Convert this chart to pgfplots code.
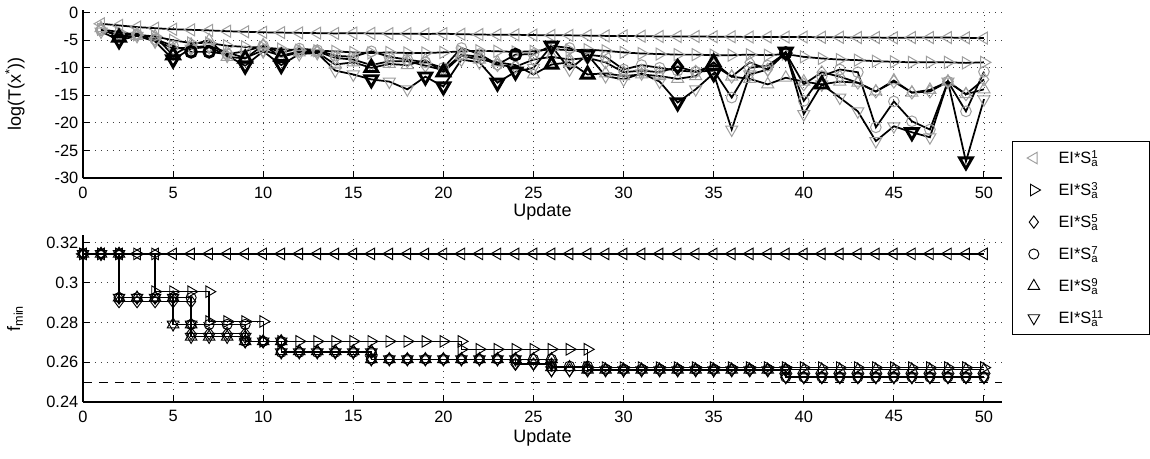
\documentclass[border=0pt]{standalone}
\usepackage{fontspec}
\setmainfont{Liberation Sans}
\usepackage{pgfplots}
\pgfplotsset{compat=1.18}

\definecolor{mk}{gray}{0.62}

\pgfplotsset{
  mat/.style={
    scale only axis, width=689.25pt, xmin=0, xmax=51,
    axis x line*=bottom, axis y line*=left,
    axis line style={-, line width=0.9pt},
    tick align=inside, major tick length=5pt,
    tick style={line width=0.75pt, black},
    xtick={0,5,...,50},
    grid=major,
    major grid style={black!75, line width=0.7pt, dash pattern=on 0.7pt off 3.8pt},
    tick label style={font=\fontsize{12.3}{14}\selectfont},
    xticklabel style={yshift=-3pt},
    label style={font=\fontsize{13.5}{16}\selectfont},
    /pgf/number format/assume math mode=true,
    xlabel={Update},
  },
  % top panel: black lines, grey markers
  tl/.style={black, line width=1.3pt, mark=triangle, mark size=5.2pt, mark options={draw=mk, line width=0.75pt, rotate=90}},
  tr/.style={black, line width=1.3pt, mark=triangle, mark size=5.2pt, mark options={draw=mk, line width=0.75pt, rotate=-90}},
  td/.style={black, line width=1.3pt, mark=diamond, mark size=4.8pt, mark options={draw=mk, line width=0.75pt}},
  tc/.style={black, line width=1.3pt, mark=o, mark size=4pt, mark options={draw=mk, line width=0.75pt}},
  tu/.style={black, line width=1.3pt, mark=triangle, mark size=5.2pt, mark options={draw=mk, line width=0.75pt}},
  tv/.style={black, line width=1.3pt, mark=triangle, mark size=5.2pt, mark options={draw=mk, line width=0.75pt, rotate=180}},
  % bottom panel: black lines and markers
  bl/.style={black, line width=1.0pt, mark=triangle, mark size=5pt, mark options={line width=0.7pt, rotate=90}},
  br/.style={black, line width=1.0pt, mark=triangle, mark size=5pt, mark options={line width=0.7pt, rotate=-90}},
  bd/.style={black, line width=1.0pt, mark=diamond, mark size=4.6pt, mark options={line width=0.7pt}},
  bc/.style={black, line width=1.0pt, mark=o, mark size=3.8pt, mark options={line width=0.7pt}},
  bu/.style={black, line width=1.0pt, mark=triangle, mark size=5pt, mark options={line width=0.7pt}},
  bv/.style={black, line width=1.0pt, mark=triangle, mark size=5pt, mark options={line width=0.7pt, rotate=180}},
}
\newcommand\lgnd[1]{\makebox[68.25pt][l]{EI*S\rlap{\textsuperscript{#1}}\textsubscript{a}}}

\begin{document}
\begin{tikzpicture}
\useasboundingbox (-62.25pt,7.5pt) rectangle (800.25pt,-336pt);

% ---------------- top: log(T(x*)) ----------------
\begin{axis}[mat,
    at={(0,0)}, anchor=north west,
    height=126pt, ymin=-30, ymax=0.5,
    ytick={-30,-25,-20,-15,-10,-5,0},
    ylabel={log(T(x\textsuperscript{*}))},
    xlabel style={at={(axis description cs:0.5,-0.202)}, anchor=center},
    ylabel style={at={(axis description cs:-0.074,0.5)}, anchor=center},
]
\addplot[tl] coordinates {
(1,-2.0)(2,-2.3)(3,-2.6)(4,-2.8)(5,-3.0)(6,-3.1)(7,-3.2)(8,-3.35)(9,-3.45)(10,-3.55)
(11,-3.6)(12,-3.65)(13,-3.7)(14,-3.75)(15,-3.7)(16,-3.75)(17,-3.8)(18,-3.8)(19,-3.85)(20,-3.8)
(21,-3.9)(22,-3.95)(23,-4.0)(24,-4.0)(25,-4.05)(26,-4.1)(27,-4.1)(28,-4.15)(29,-4.2)(30,-4.2)
(31,-4.25)(32,-4.3)(33,-4.3)(34,-4.3)(35,-4.35)(36,-4.35)(37,-4.4)(38,-4.4)(39,-4.4)(40,-4.4)
(41,-4.45)(42,-4.45)(43,-4.5)(44,-4.5)(45,-4.55)(46,-4.5)(47,-4.5)(48,-4.5)(49,-4.55)(50,-4.6)};
\addplot[tr] coordinates {
(1,-3.0)(2,-3.5)(3,-4.0)(4,-4.3)(5,-5.0)(6,-5.5)(7,-5.5)(8,-6.0)(9,-6.2)(10,-6.3)
(11,-6.6)(12,-6.8)(13,-6.9)(14,-7.0)(15,-7.2)(16,-7.3)(17,-7.2)(18,-7.3)(19,-7.3)(20,-7.2)
(21,-7.0)(22,-6.9)(23,-7.0)(24,-7.1)(25,-7.0)(26,-6.6)(27,-6.8)(28,-6.7)(29,-6.9)(30,-7.2)
(31,-7.4)(32,-7.5)(33,-7.6)(34,-7.6)(35,-7.7)(36,-7.7)(37,-7.6)(38,-7.7)(39,-7.5)(40,-8.0)
(41,-8.3)(42,-8.5)(43,-8.6)(44,-8.8)(45,-8.9)(46,-9.0)(47,-9.0)(48,-9.0)(49,-9.1)(50,-9.0)};
\addplot[td] coordinates {
(1,-3.0)(2,-4.2)(3,-3.8)(4,-5.0)(5,-6.5)(6,-6.3)(7,-6.0)(8,-7.2)(9,-8.2)(10,-6.8)
(11,-7.8)(12,-7.0)(13,-7.0)(14,-8.2)(15,-8.5)(16,-9.5)(17,-8.8)(18,-8.8)(19,-9.6)(20,-10.4)
(21,-7.6)(22,-8.0)(23,-9.5)(24,-9.8)(25,-8.5)(26,-8.0)(27,-8.5)(28,-8.2)(29,-9.0)(30,-10.8)
(31,-10.5)(32,-10.8)(33,-9.8)(34,-10.7)(35,-9.5)(36,-11.6)(37,-9.0)(38,-10.3)(39,-7.3)(40,-13.0)
(41,-10.8)(42,-11.6)(43,-12.7)(44,-14.3)(45,-12.5)(46,-14.5)(47,-14.3)(48,-12.5)(49,-14.8)(50,-12.1)};
\addplot[tc] coordinates {
(1,-3.2)(2,-4.0)(3,-4.0)(4,-4.8)(5,-6.0)(6,-7.1)(7,-7.1)(8,-7.5)(9,-7.0)(10,-6.0)
(11,-7.2)(12,-6.5)(13,-6.8)(14,-7.8)(15,-8.0)(16,-7.0)(17,-8.0)(18,-8.5)(19,-9.0)(20,-10.0)
(21,-6.4)(22,-7.5)(23,-9.4)(24,-7.6)(25,-7.5)(26,-6.0)(27,-6.4)(28,-7.6)(29,-8.0)(30,-10.3)
(31,-9.5)(32,-10.0)(33,-10.5)(34,-10.7)(35,-10.5)(36,-15.4)(37,-10.0)(38,-9.6)(39,-7.3)(40,-16.0)
(41,-11.5)(42,-10.3)(43,-10.8)(44,-20.8)(45,-16.1)(46,-19.7)(47,-21.2)(48,-12.5)(49,-17.9)(50,-10.7)};
\addplot[tu] coordinates {
(1,-2.8)(2,-4.5)(3,-4.2)(4,-4.3)(5,-7.7)(6,-5.8)(7,-5.0)(8,-8.0)(9,-8.3)(10,-5.9)
(11,-8.0)(12,-7.2)(13,-7.2)(14,-9.4)(15,-9.0)(16,-10.0)(17,-9.3)(18,-9.5)(19,-8.6)(20,-10.8)
(21,-7.8)(22,-8.5)(23,-9.0)(24,-9.5)(25,-11.2)(26,-9.4)(27,-9.0)(28,-11.2)(29,-11.0)(30,-11.5)
(31,-11.2)(32,-11.5)(33,-12.0)(34,-11.5)(35,-9.0)(36,-11.6)(37,-12.0)(38,-13.0)(39,-11.8)(40,-12.5)
(41,-13.0)(42,-12.5)(43,-12.7)(44,-14.3)(45,-12.3)(46,-14.5)(47,-14.0)(48,-12.5)(49,-14.8)(50,-13.9)};
\addplot[tv] coordinates {
(1,-3.4)(2,-5.0)(3,-4.2)(4,-5.2)(5,-8.5)(6,-6.5)(7,-6.2)(8,-7.8)(9,-9.6)(10,-7.0)
(11,-9.5)(12,-7.5)(13,-7.3)(14,-10.5)(15,-11.2)(16,-12.1)(17,-12.5)(18,-13.9)(19,-11.6)(20,-13.4)
(21,-8.5)(22,-9.0)(23,-12.7)(24,-10.7)(25,-10.0)(26,-6.0)(27,-10.3)(28,-7.6)(29,-11.5)(30,-12.1)
(31,-11.0)(32,-12.5)(33,-16.3)(34,-13.9)(35,-11.0)(36,-21.2)(37,-11.2)(38,-10.3)(39,-7.1)(40,-18.4)
(41,-13.0)(42,-15.4)(43,-17.9)(44,-23.3)(45,-20.6)(46,-21.7)(47,-22.6)(48,-12.5)(49,-27.0)(50,-15.7)};
% highlighted (black) markers
\addplot[only marks, mark=triangle, mark size=5.5pt, mark options={draw=black, line width=2.2pt, rotate=180}] coordinates {
(2,-5.0)(5,-8.5)(9,-9.6)(11,-9.5)(16,-12.1)(19,-11.6)(20,-13.4)(23,-12.7)(24,-10.7)(26,-6.0)(28,-7.6)(33,-16.3)(35,-11.0)(39,-7.1)(46,-21.7)(49,-27.0)};
\addplot[only marks, mark=triangle, mark size=5.5pt, mark options={draw=black, line width=2.2pt}] coordinates {
(2,-4.5)(5,-7.7)(9,-8.3)(11,-8.0)(16,-10.0)(20,-10.8)(26,-9.4)(28,-11.2)(35,-9.0)(41,-13.0)};
\addplot[only marks, mark=o, mark size=4pt, mark options={draw=black, line width=2.2pt}] coordinates {
(6,-7.1)(7,-7.1)(24,-7.6)(39,-7.3)};
\addplot[only marks, mark=diamond, mark size=4.8pt, mark options={draw=black, line width=2.2pt}] coordinates {
(33,-9.8)};
\end{axis}

% ---------------- bottom: f_min ----------------
\begin{axis}[mat,
    at={(0,-168.75pt)}, anchor=north west,
    height=125.25pt, ymin=0.24, ymax=0.324,
    ytick={0.24,0.26,0.28,0.3,0.32},
    ylabel={f\textsubscript{min}},
    xlabel style={at={(axis description cs:0.5,-0.216)}, anchor=center},
    ylabel style={at={(axis description cs:-0.074,0.5)}, anchor=center},
    legend image code/.code={\path[draw=none] (0pt,0pt) -- (30pt,0pt); \draw[#1] plot coordinates {(16pt,0pt)};},
    legend style={at={(1.0109,1.563)}, anchor=north west, draw=black, line width=0.75pt,
      inner xsep=0pt, inner ysep=6.5pt, row sep=12.2pt, column sep=4.5pt,
      font=\fontsize{12.3}{14}\selectfont, nodes={draw=none, inner sep=0pt}},
    legend cell align=left,
]
\addlegendimage{only marks, mark=triangle, mark size=5pt, mark options={draw=mk, line width=0.7pt, rotate=90}}
\addlegendentry{\lgnd{1}}
\addlegendimage{only marks, mark=triangle, mark size=5pt, mark options={draw=black, line width=0.7pt, rotate=-90}}
\addlegendentry{\lgnd{3}}
\addlegendimage{only marks, mark=diamond, mark size=4.6pt, mark options={draw=black, line width=0.7pt}}
\addlegendentry{\lgnd{5}}
\addlegendimage{only marks, mark=o, mark size=3.8pt, mark options={draw=black, line width=0.7pt}}
\addlegendentry{\lgnd{7}}
\addlegendimage{only marks, mark=triangle, mark size=5pt, mark options={draw=black, line width=0.7pt}}
\addlegendentry{\lgnd{9}}
\addlegendimage{only marks, mark=triangle, mark size=5pt, mark options={draw=black, line width=0.7pt, rotate=180}}
\addlegendentry{\lgnd{11}}

\addplot[forget plot, black, line width=0.8pt, dash pattern=on 7pt off 5pt] coordinates {(0,0.25)(51,0.25)};

\addplot[bl, forget plot] coordinates {
(0,.3145)(1,.3145)(2,.3145)(3,.3145)(4,.3145)(5,.3145)(6,.3145)(7,.3145)(8,.3145)(9,.3145)
(10,.3145)(11,.3145)(12,.3145)(13,.3145)(14,.3145)(15,.3145)(16,.3145)(17,.3145)(18,.3145)(19,.3145)
(20,.3145)(21,.3145)(22,.3145)(23,.3145)(24,.3145)(25,.3145)(26,.3145)(27,.3145)(28,.3145)(29,.3145)
(30,.3145)(31,.3145)(32,.3145)(33,.3145)(34,.3145)(35,.3145)(36,.3145)(37,.3145)(38,.3145)(39,.3145)
(40,.3145)(41,.3145)(42,.3145)(43,.3145)(44,.3145)(45,.3145)(46,.3145)(47,.3145)(48,.3145)(49,.3145)(50,.3145)};
\addplot[br, forget plot] coordinates {
(0,.3145)(1,.3145)(2,.3145)(3,.3145)(4,.3145)(4,.2955)(5,.2955)(6,.2955)(7,.2955)
(7,.2805)(8,.2805)(9,.2805)(10,.2805)
(10,.2705)(11,.2705)(12,.2705)(13,.2705)(14,.2705)(15,.2705)(16,.2705)(17,.2705)(18,.2705)(19,.2705)(20,.2705)(21,.2705)
(21,.2665)(22,.2665)(23,.2665)(24,.2665)(25,.2665)(26,.2665)(27,.2665)(28,.2665)
(28,.2573)(29,.2573)(30,.2573)(31,.2573)(32,.2573)(33,.2573)(34,.2573)(35,.2573)(36,.2573)(37,.2573)(38,.2573)(39,.2573)
(40,.2573)(41,.2573)(42,.2573)(43,.2573)(44,.2573)(45,.2573)(46,.2573)(47,.2573)(48,.2573)(49,.2573)(50,.2573)};
\addplot[bd, forget plot] coordinates {
(0,.3145)(1,.3145)(2,.3145)(2,.2905)(3,.2905)(4,.2905)(5,.2905)(6,.2905)
(6,.2745)(7,.2745)(8,.2745)(9,.2745)(9,.2705)(10,.2705)(11,.2705)
(11,.2655)(12,.2655)(13,.2655)(14,.2655)(15,.2655)(16,.2655)
(16,.2615)(17,.2615)(18,.2615)(19,.2615)(20,.2615)(21,.2615)(22,.2615)(23,.2615)(24,.2615)
(24,.259)(25,.259)(26,.259)
(26,.256)(27,.256)(28,.256)(29,.256)(30,.256)(31,.256)(32,.256)(33,.256)(34,.256)(35,.256)(36,.256)(37,.256)(38,.256)(39,.256)
(39,.2525)(40,.2525)(41,.2525)(42,.2525)(43,.2525)(44,.2525)(45,.2525)(46,.2525)(47,.2525)(48,.2525)(49,.2525)(50,.2525)};
\addplot[bc, forget plot] coordinates {
(0,.3145)(1,.3145)(2,.3145)(2,.2925)(3,.2925)(4,.2925)(5,.2925)(6,.2925)
(6,.279)(7,.279)(8,.279)(9,.279)(9,.2705)(10,.2705)(11,.2705)
(11,.265)(12,.265)(13,.265)(14,.265)(15,.265)(16,.265)
(16,.2615)(17,.2615)(18,.2615)(19,.2615)(20,.2615)(21,.2615)(22,.2615)(23,.2615)(24,.2615)(25,.2615)(26,.2615)
(26,.258)(27,.258)(28,.258)
(28,.2565)(29,.2565)(30,.2565)(31,.2565)(32,.2565)(33,.2565)(34,.2565)(35,.2565)(36,.2565)(37,.2565)(38,.2565)(39,.2565)
(39,.2525)(40,.2525)(41,.2525)(42,.2525)(43,.2525)(44,.2525)(45,.2525)(46,.2525)(47,.2525)(48,.2525)(49,.2525)(50,.2525)};
\addplot[bu, forget plot] coordinates {
(0,.3145)(1,.3145)(2,.3145)(2,.2925)(3,.2925)(4,.2925)(5,.2925)(5,.279)(6,.279)
(6,.2728)(7,.2728)(8,.2728)(9,.2728)(9,.2705)(10,.2705)(11,.2705)
(11,.2655)(12,.2655)(13,.2655)(14,.2655)(15,.2655)(16,.2655)
(16,.2615)(17,.2615)(18,.2615)(19,.2615)(20,.2615)(21,.2615)(22,.2615)(23,.2615)(24,.2615)(25,.2615)(26,.2615)
(26,.2575)(27,.2575)(28,.2575)
(28,.2562)(29,.2562)(30,.2562)(31,.2562)(32,.2562)(33,.2562)(34,.2562)(35,.2562)(36,.2562)(37,.2562)(38,.2562)(39,.2562)
(40,.2562)(41,.2562)(42,.2562)(43,.2562)(44,.2562)(45,.2562)(46,.2562)(47,.2562)(48,.2562)(49,.2562)(50,.2562)};
\addplot[bv, forget plot] coordinates {
(0,.3145)(1,.3145)(2,.3145)(2,.2925)(3,.2925)(4,.2925)(5,.2925)(5,.279)(6,.279)
(6,.2728)(7,.2728)(8,.2728)(9,.2728)(9,.2705)(10,.2705)(11,.2705)
(11,.265)(12,.265)(13,.265)(14,.265)(15,.265)(16,.265)
(16,.2615)(17,.2615)(18,.2615)(19,.2615)(20,.2615)(21,.2615)(22,.2615)(23,.2615)(24,.2615)
(24,.2595)(25,.2595)(26,.2595)
(26,.256)(27,.256)(28,.256)(29,.256)(30,.256)(31,.256)(32,.256)(33,.256)(34,.256)(35,.256)(36,.256)(37,.256)(38,.256)(39,.256)
(39,.2525)(40,.2525)(41,.2525)(42,.2525)(43,.2525)(44,.2525)(45,.2525)(46,.2525)(47,.2525)(48,.2525)(49,.2525)(50,.2525)};
\end{axis}
\end{tikzpicture}
\end{document}
